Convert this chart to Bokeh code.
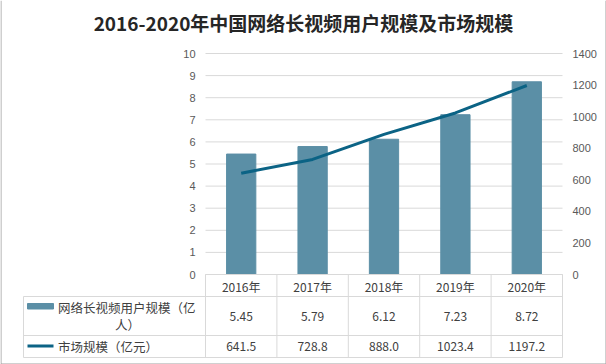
from bokeh.plotting import figure
from bokeh.models import Range1d
from bokeh.embed import file_html
from bokeh.resources import INLINE
from bokeh.core.properties import value

# ---------------- data ----------------
years = ["2016年", "2017年", "2018年", "2019年", "2020年"]
users = [5.45, 5.79, 6.12, 7.23, 8.72]            # 网络长视频用户规模（亿人）
market = [641.5, 728.8, 888.0, 1023.4, 1197.2]    # 市场规模（亿元）
users_labels = ["5.45", "5.79", "6.12", "7.23", "8.72"]
market_labels = ["641.5", "728.8", "888.0", "1023.4", "1197.2"]
left_ticks = [0, 1, 2, 3, 4, 5, 6, 7, 8, 9, 10]
left_tick_labels = ["0", "1", "2", "3", "4", "5", "6", "7", "8", "9", "10"]
right_ticks = [0, 200, 400, 600, 800, 1000, 1200, 1400]
right_tick_labels = ["0", "200", "400", "600", "800", "1000", "1200", "1400"]
title_text = "2016-2020年中国网络长视频用户规模及市场规模"
series1_line1 = "网络长视频用户规模（亿"
series1_line2 = "人）"
series2_name = "市场规模（亿元）"

# ---------------- style ----------------
BAR = "#5B8FA6"
LINE = "#0B6385"
GRID = "#d9d9d9"
TXT = "#404040"
AX = "#595959"
EDGE = "#a0a0a0"
CJK = value("Noto Sans CJK SC")
LAT = value("Liberation Sans")

n = len(years)
xc = [i + 0.5 for i in range(n)]

# canvas geometry: plot area x 205..562, y 53 (=10) .. 274 (=0)
W, H = 606, 364
PX0, PX1, PY0, PY10 = 205.0, 562.0, 274.0, 53.0
CW = (PX1 - PX0) / n            # px per category
UH = (PY0 - PY10) / 10.0        # px per user unit
MKT_PER_UNIT = 1400 / 10.0

def xp(px):
    return (px - PX0) / CW

def yp(py):
    return (PY0 - py) / UH

x0, x1 = xp(0), xp(W)
y0, y1 = yp(H), yp(0)

p = figure(frame_width=W, frame_height=H, min_border=0, min_border_left=0,
           min_border_right=0, min_border_top=0, min_border_bottom=0,
           x_range=Range1d(x0, x1), y_range=Range1d(y0, y1),
           x_axis_location=None, y_axis_location=None,
           output_backend="svg", toolbar_location=None, tools="")
p.outline_line_color = None
p.grid.visible = False
p.extra_y_ranges = {"mkt": Range1d(y0 * MKT_PER_UNIT, y1 * MKT_PER_UNIT)}

# outer chart border (left, right, bottom)
p.segment(x0=[xp(0.5), xp(605.5), xp(0.5)], y0=[yp(0), yp(0), yp(363.5)],
          x1=[xp(0.5), xp(605.5), xp(605.5)], y1=[yp(363.5), yp(363.5), yp(363.5)],
          line_color=EDGE, line_width=1)

# gridlines of the left value axis
p.segment(x0=[0] * len(left_ticks), y0=left_ticks, x1=[n] * len(left_ticks), y1=left_ticks,
          line_color=GRID, line_width=1)
# left tick labels
p.text(x=[xp(195)] * len(left_ticks), y=left_ticks, text=left_tick_labels,
       text_align="right", text_baseline="middle", text_font=LAT,
       text_font_size="11px", text_color=AX)
# right tick labels (market scale)
p.text(x=[xp(572)] * len(right_ticks), y=right_ticks, y_range_name="mkt",
       text=right_tick_labels, text_align="left", text_baseline="middle",
       text_font=LAT, text_font_size="11px", text_color=AX)

# bars and line
p.vbar(x=xc, top=users, bottom=0, width=0.41, color=BAR)
p.line(x=xc, y=market, y_range_name="mkt", line_width=3, line_color=LINE)

# title
p.text(x=[xp(303)], y=[yp(22)], text=[title_text], text_align="center",
       text_baseline="middle", text_font=CJK, text_font_style="bold",
       text_font_size="19px", text_color="#262626")

# ---------------- data table ----------------
yh, yr1, yr2, yb = yp(274), yp(296), yp(335), yp(357)
xl = xp(23)
p.segment(x0=[0, xl, xl, xl], y0=[yh, yr1, yr2, yb], x1=[n] * 4, y1=[yh, yr1, yr2, yb],
          line_color=GRID, line_width=1)
cols = list(range(n + 1))
p.segment(x0=cols, y0=[yh] * len(cols), x1=cols, y1=[yb] * len(cols),
          line_color=GRID, line_width=1)
p.segment(x0=[xl], y0=[yr1], x1=[xl], y1=[yb], line_color=GRID, line_width=1)

# header: years
p.text(x=xc, y=[yp(285.5)] * n, text=years, text_align="center", text_baseline="middle",
       text_font=CJK, text_font_size="12px", text_color=TXT)

# legend keys
p.quad(left=[xp(27)], right=[xp(53)], top=[yp(303)], bottom=[yp(308.5)], color=BAR)
p.segment(x0=[xp(27)], y0=[yp(345.5)], x1=[xp(53)], y1=[yp(345.5)],
          line_color=LINE, line_width=3)

# row names
p.text(x=[xp(57.5)], y=[yp(306.5)], text=[series1_line1], text_align="left",
       text_baseline="middle", text_font=CJK, text_font_size="12.5px", text_color=TXT)
p.text(x=[xp(127)], y=[yp(323.5)], text=[series1_line2], text_align="center",
       text_baseline="middle", text_font=CJK, text_font_size="12.5px", text_color=TXT)
p.text(x=[xp(57.5)], y=[yp(346)], text=[series2_name], text_align="left",
       text_baseline="middle", text_font=CJK, text_font_size="12.5px", text_color=TXT)

# values
p.text(x=xc, y=[yp(315.5)] * n, text=users_labels, text_align="center",
       text_baseline="middle", text_font=CJK, text_font_size="12px", text_color=TXT)
p.text(x=xc, y=[yp(346)] * n, text=market_labels, text_align="center",
       text_baseline="middle", text_font=CJK, text_font_size="12px", text_color=TXT)

open("out.html", "w").write(file_html(p, INLINE))
